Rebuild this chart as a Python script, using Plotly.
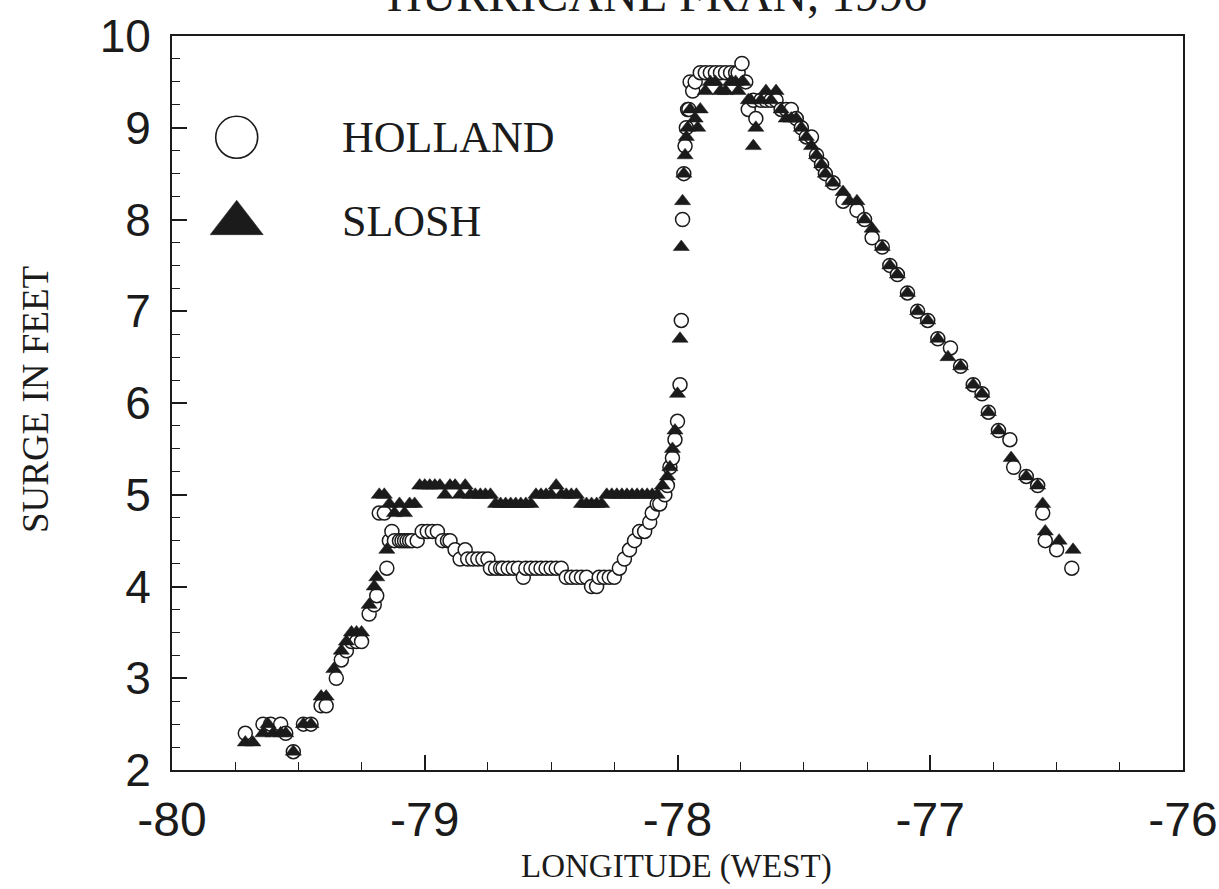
import plotly.graph_objects as go

# ---------------- data ----------------
holland_lon = [
    -79.71, -79.64, -79.61, -79.57, -79.55, -79.52, -79.48, -79.45, -79.41, -79.39,
    -79.35, -79.33, -79.31, -79.29, -79.27, -79.25, -79.22, -79.20, -79.19, -79.18,
    -79.16, -79.15, -79.14, -79.13, -79.12, -79.10, -79.09, -79.08, -79.07, -79.06,
    -79.05, -79.03, -79.01, -78.99, -78.97, -78.95, -78.93, -78.91, -78.90, -78.88,
    -78.86, -78.84, -78.83, -78.81, -78.79, -78.77, -78.75, -78.74, -78.72, -78.70,
    -78.69, -78.67, -78.65, -78.63, -78.61, -78.60, -78.58, -78.56, -78.54, -78.52,
    -78.50, -78.48, -78.46, -78.44, -78.42, -78.40, -78.38, -78.36, -78.34, -78.32,
    -78.31, -78.29, -78.27, -78.25, -78.23, -78.21, -78.19, -78.17, -78.15, -78.13,
    -78.11, -78.10, -78.08, -78.07, -78.05, -78.04, -78.03, -78.02, -78.01, -78.00,
    -77.99, -77.985, -77.98, -77.975, -77.97, -77.965, -77.96, -77.955, -77.95, -77.94,
    -77.93, -77.91, -77.89, -77.87, -77.85, -77.83, -77.81, -77.79, -77.77, -77.76,
    -77.745, -77.73, -77.72, -77.70, -77.69, -77.67, -77.65, -77.63, -77.61, -77.59,
    -77.57, -77.55, -77.53, -77.51, -77.49, -77.47, -77.45, -77.43, -77.415, -77.385,
    -77.345, -77.29, -77.26, -77.23, -77.19, -77.16, -77.13, -77.09, -77.05, -77.01,
    -76.97, -76.92, -76.88, -76.83, -76.795, -76.77, -76.73, -76.685, -76.67, -76.62,
    -76.575, -76.555, -76.545, -76.50, -76.44,
]
holland_surge = [
    2.4, 2.5, 2.5, 2.5, 2.4, 2.2, 2.5, 2.5, 2.7, 2.7,
    3.0, 3.2, 3.3, 3.4, 3.4, 3.4, 3.7, 3.8, 3.9, 4.8,
    4.8, 4.2, 4.5, 4.6, 4.5, 4.5, 4.5, 4.5, 4.5, 4.5,
    4.5, 4.5, 4.6, 4.6, 4.6, 4.6, 4.5, 4.5, 4.5, 4.4,
    4.3, 4.4, 4.3, 4.3, 4.3, 4.3, 4.3, 4.2, 4.2, 4.2,
    4.2, 4.2, 4.2, 4.2, 4.1, 4.2, 4.2, 4.2, 4.2, 4.2,
    4.2, 4.2, 4.2, 4.1, 4.1, 4.1, 4.1, 4.1, 4.0, 4.0,
    4.1, 4.1, 4.1, 4.1, 4.2, 4.3, 4.4, 4.5, 4.6, 4.6,
    4.7, 4.8, 4.9, 4.9, 5.0, 5.1, 5.3, 5.4, 5.6, 5.8,
    6.2, 6.9, 8.0, 8.5, 8.8, 9.0, 9.2, 9.2, 9.5, 9.4,
    9.5, 9.6, 9.6, 9.6, 9.6, 9.6, 9.6, 9.6, 9.6, 9.6,
    9.7, 9.5, 9.2, 9.3, 9.1, 9.3, 9.3, 9.3, 9.3, 9.2,
    9.2, 9.2, 9.1, 9.0, 8.9, 8.9, 8.7, 8.6, 8.5, 8.4,
    8.2, 8.1, 8.0, 7.8, 7.7, 7.5, 7.4, 7.2, 7.0, 6.9,
    6.7, 6.6, 6.4, 6.2, 6.1, 5.9, 5.7, 5.6, 5.3, 5.2,
    5.1, 4.8, 4.5, 4.4, 4.2,
]

slosh_lon = [
    -79.71, -79.68, -79.64, -79.62, -79.60, -79.57, -79.55, -79.52, -79.48, -79.45,
    -79.41, -79.39, -79.36, -79.33, -79.31, -79.29, -79.27, -79.25, -79.22, -79.20,
    -79.19, -79.18, -79.16, -79.15, -79.14, -79.12, -79.10, -79.08, -79.06, -79.04,
    -79.02, -79.00, -78.98, -78.96, -78.94, -78.92, -78.90, -78.88, -78.86, -78.84,
    -78.82, -78.80, -78.78, -78.76, -78.74, -78.72, -78.70, -78.68, -78.66, -78.64,
    -78.62, -78.60, -78.58, -78.56, -78.54, -78.52, -78.50, -78.48, -78.46, -78.44,
    -78.42, -78.40, -78.38, -78.36, -78.34, -78.32, -78.30, -78.28, -78.26, -78.24,
    -78.22, -78.20, -78.18, -78.16, -78.14, -78.12, -78.10, -78.08, -78.06, -78.04,
    -78.03, -78.02, -78.01, -78.00, -77.99, -77.985, -77.98, -77.975, -77.97, -77.965,
    -77.96, -77.95, -77.93, -77.92, -77.91, -77.89, -77.87, -77.85, -77.83, -77.81,
    -77.79, -77.77, -77.76, -77.74, -77.72, -77.71, -77.70, -77.69, -77.67, -77.65,
    -77.63, -77.61, -77.59, -77.57, -77.55, -77.53, -77.51, -77.49, -77.47, -77.45,
    -77.43, -77.415, -77.385, -77.345, -77.32, -77.29, -77.26, -77.23, -77.19, -77.16,
    -77.13, -77.09, -77.05, -77.01, -76.97, -76.93, -76.88, -76.83, -76.795, -76.77,
    -76.73, -76.68, -76.62, -76.575, -76.555, -76.545, -76.49, -76.435,
]
slosh_surge = [
    2.3, 2.3, 2.4, 2.5, 2.4, 2.4, 2.4, 2.2, 2.5, 2.5,
    2.8, 2.8, 3.1, 3.3, 3.4, 3.5, 3.5, 3.5, 3.8, 4.0,
    4.1, 5.0, 5.0, 4.4, 4.9, 4.8, 4.9, 4.8, 4.9, 4.9,
    5.1, 5.1, 5.1, 5.1, 5.1, 5.0, 5.1, 5.1, 5.0, 5.1,
    5.0, 5.0, 5.0, 5.0, 5.0, 4.9, 4.9, 4.9, 4.9, 4.9,
    4.9, 4.9, 4.9, 5.0, 5.0, 5.0, 5.0, 5.1, 5.0, 5.0,
    5.0, 5.0, 4.9, 4.9, 4.9, 4.9, 4.9, 5.0, 5.0, 5.0,
    5.0, 5.0, 5.0, 5.0, 5.0, 5.0, 5.0, 5.0, 5.1, 5.2,
    5.3, 5.5, 5.7, 6.1, 6.7, 7.7, 8.2, 8.5, 8.7, 8.9,
    9.0, 9.2, 9.1, 9.0, 9.2, 9.4, 9.5, 9.5, 9.4, 9.4,
    9.5, 9.5, 9.4, 9.5, 9.3, 9.3, 8.8, 9.0, 9.3, 9.4,
    9.3, 9.4, 9.2, 9.1, 9.1, 9.1, 9.0, 8.9, 8.8, 8.7,
    8.6, 8.5, 8.4, 8.3, 8.2, 8.2, 8.0, 7.9, 7.7, 7.5,
    7.4, 7.2, 7.0, 6.9, 6.7, 6.5, 6.4, 6.2, 6.1, 5.9,
    5.7, 5.4, 5.2, 5.1, 4.9, 4.6, 4.5, 4.4,
]

series_names = ["HOLLAND", "SLOSH"]
x_ticks = [-80, -79, -78, -77, -76]
y_ticks = [2, 3, 4, 5, 6, 7, 8, 9, 10]
title_text = "HURRICANE FRAN, 1996"
x_title = "LONGITUDE (WEST)"
y_title = "SURGE IN FEET"

INK = "#1b1b1b"
SERIF = "Liberation Serif, Times New Roman, serif"
SANS = "Liberation Sans, Arial, sans-serif"

fig = go.Figure()

fig.add_trace(go.Scatter(
    x=holland_lon, y=holland_surge, mode="markers", name=series_names[0],
    marker=dict(symbol="circle", size=14, color="white",
                line=dict(color=INK, width=1.5)),
    showlegend=False,
))
fig.add_trace(go.Scatter(
    x=slosh_lon, y=slosh_surge, mode="markers", name=series_names[1],
    marker=dict(symbol="triangle-up", size=14, color=INK,
                line=dict(color=INK, width=0.5)),
    showlegend=False,
))

# Big in-plot legend drawn on an overlay axis (0..1 box)
fig.add_trace(go.Scatter(
    x=[0.064], y=[0.862], mode="markers", xaxis="x2", yaxis="y2",
    marker=dict(symbol="circle", size=42, color="white",
                line=dict(color=INK, width=1.6)),
    showlegend=False, hoverinfo="skip",
))
fig.add_trace(go.Scatter(
    x=[0.064], y=[0.745], mode="markers", xaxis="x2", yaxis="y2",
    marker=dict(symbol="triangle-up", size=46, color=INK,
                line=dict(color=INK, width=0.5)),
    showlegend=False, hoverinfo="skip",
))

annotations = [
    dict(text=series_names[0], x=0.166, y=0.862, xref="paper", yref="paper",
         xanchor="left", yanchor="middle", showarrow=False,
         font=dict(family=SERIF, size=44, color=INK)),
    dict(text=series_names[1], x=0.166, y=0.747, xref="paper", yref="paper",
         xanchor="left", yanchor="middle", showarrow=False,
         font=dict(family=SERIF, size=44, color=INK)),
    dict(text=title_text, x=0.48, y=1.018, xref="paper", yref="paper",
         xanchor="center", yanchor="bottom", showarrow=False,
         font=dict(family=SERIF, size=48, color=INK)),
    dict(text=x_title, x=0.4995, y=-0.132, xref="paper", yref="paper",
         xanchor="center", yanchor="middle", showarrow=False,
         font=dict(family=SERIF, size=33, color=INK)),
    dict(text=y_title, x=-0.1355, y=0.504, xref="paper", yref="paper",
         xanchor="center", yanchor="middle", showarrow=False, textangle=-90,
         font=dict(family=SERIF, size=37, color=INK)),
]

fig.update_layout(
    width=1219, height=889,
    margin=dict(l=172, r=36, t=36, b=119, pad=0, autoexpand=False),
    paper_bgcolor="white", plot_bgcolor="white",
    showlegend=False,
    annotations=annotations,
    xaxis=dict(
        range=[-80, -76], tickvals=x_ticks, ticktext=[str(v) for v in x_ticks],
        ticks="inside", ticklen=15, tickwidth=1.5, tickcolor=INK,
        minor=dict(dtick=0.25, ticks="inside", ticklen=8, tickwidth=1.2, tickcolor=INK),
        showline=True, linecolor=INK, linewidth=2, mirror=True,
        showgrid=False, zeroline=False, automargin=False,
        tickfont=dict(family=SANS, size=48, color=INK),
        ticklabelstandoff=6,
    ),
    yaxis=dict(
        range=[2, 10], tickvals=y_ticks, ticktext=[str(v) for v in y_ticks],
        ticks="inside", ticklen=15, tickwidth=1.5, tickcolor=INK,
        minor=dict(dtick=0.25, ticks="inside", ticklen=8, tickwidth=1.2, tickcolor=INK),
        showline=True, linecolor=INK, linewidth=2, mirror=True,
        showgrid=False, zeroline=False, automargin=False,
        tickfont=dict(family=SANS, size=46, color=INK),
        ticklabelstandoff=10,
    ),
    xaxis2=dict(domain=[0, 1], range=[0, 1], overlaying="x", visible=False,
                fixedrange=True),
    yaxis2=dict(domain=[0, 1], range=[0, 1], overlaying="y", visible=False,
                anchor="x2", fixedrange=True),
)
fig.data[2].update(yaxis="y2")
fig.data[3].update(yaxis="y2")

fig.write_html("out.html")
